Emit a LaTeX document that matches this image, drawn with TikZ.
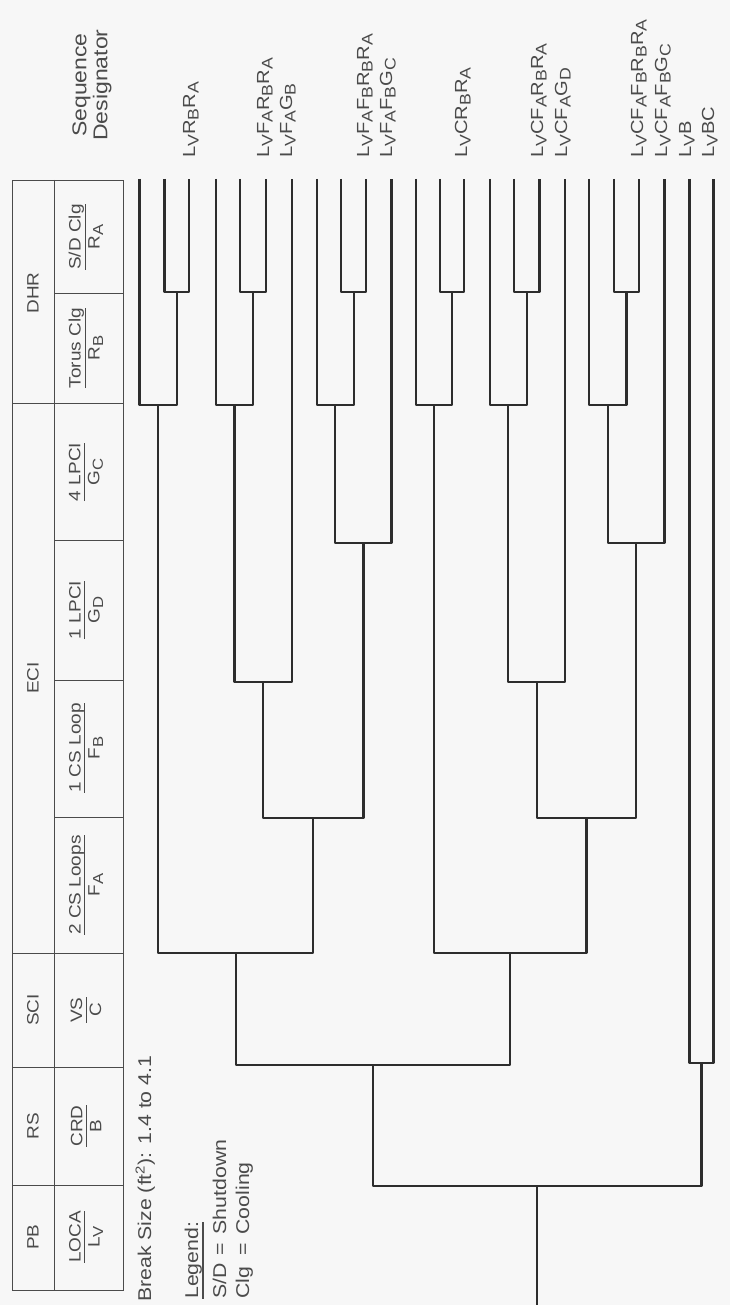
\documentclass[tikz,border=0pt]{standalone}
\usepackage{fontspec}
\setmainfont{Liberation Sans}[FakeStretch=1.15]
\newcommand{\dn}[1]{\raisebox{-0.4ex}{\scalebox{0.88}{#1}}}
\newcommand{\ulx}[1]{\setbox0\hbox{#1}\rlap{\rule[-0.3em]{\wd0}{1.1pt}}\box0}
\definecolor{bg}{RGB}{247,247,247}
\definecolor{ink}{RGB}{45,45,45}
\definecolor{txt}{RGB}{75,75,75}
\begin{document}
\begin{tikzpicture}[x=1pt,y=-1pt,
  tree/.style={draw=ink,line width=2.3pt,line join=round},
  grid/.style={draw=txt,line width=0.9pt},
  hd/.style={rotate=90,text=txt,font=\fontsize{16.5}{19}\selectfont,inner sep=0pt},
  cell/.style={rotate=90,text=txt,font=\fontsize{16.5}{19}\selectfont,align=center,inner sep=0pt},
  seq/.style={rotate=90,anchor=base west,text=txt,font=\fontsize{17.5}{19}\selectfont,inner sep=0pt},
  note/.style={rotate=90,anchor=base west,text=txt,font=\fontsize{18.5}{21}\selectfont,inner sep=0pt}]
\fill[bg] (0,0) rectangle (730,1305);
\useasboundingbox (0,0) rectangle (730,1305);
% table
\draw[grid] (12,180) rectangle (123,1290);
\draw[grid] (54,180) -- (54,1290);
\foreach \yy in {403,953,1067,1185} \draw[grid] (12,\yy) -- (123,\yy);
\foreach \yy in {293,540,680,817} \draw[grid] (54,\yy) -- (123,\yy);
\node[hd] (hDHR) at (33,293) {DHR};
\node[hd] (hECI) at (33,678) {ECI};
\node[hd] (hSCI) at (33,1010) {SCI};
\node[hd] (hRS) at (33,1126) {RS};
\node[hd] (hPB) at (33,1237) {PB};
\node[cell] (cRA) at (86,237) {\ulx{S/D Clg}\\R\dn{A}};
\node[cell] (cRB) at (86,348) {\ulx{Torus Clg}\\R\dn{B}};
\node[cell] (cGC) at (86,472) {\ulx{4 LPCI}\\G\dn{C}};
\node[cell] (cGD) at (86,610) {\ulx{1 LPCI}\\G\dn{D}};
\node[cell] (cFB) at (86,748) {\ulx{1 CS Loop}\\F\dn{B}};
\node[cell] (cFA) at (86,885) {\ulx{2 CS Loops}\\F\dn{A}};
\node[cell] (cC) at (86,1010) {\ulx{VS}\\C};
\node[cell] (cB) at (86,1126) {\ulx{CRD}\\B};
\node[cell] (cLV) at (86,1237) {\ulx{LOCA}\\L\dn{V}};
\node[cell,font=\fontsize{20}{21}\selectfont] (sdes) at (92,85) {Sequence\\Designator};
% notes
\node[note] (brk) at (151,1302) {Break Size (ft\textsuperscript{2}): 1.4 to 4.1};
\node[note] (leg) at (198,1299) {\ulx{Legend:}};
\node[note] (leg1) at (226,1299) {\makebox[43pt][l]{S/D}=\hspace{9pt}Shutdown};
\node[note] (leg2) at (249,1299) {\makebox[43pt][l]{Clg}=\hspace{9pt}Cooling};
% end points
\foreach \i/\xx in {0/139.6,1/164.4,2/189.3,3/216.1,4/240.2,5/265.9,6/291.9,7/316.8,8/341.3,9/366.1,10/391.4,11/416.3,12/440,13/464.1,14/489.7,15/513.9,16/539.5,17/565.1,18/589.2,19/614.1,20/639,21/664.6,22/689.5,23/713.6}
  \coordinate (e\i) at (\xx,179);
% branch points
\coordinate (a1) at (176.9,292);  \coordinate (b1) at (158.3,405);
\coordinate (a2) at (253.1,292);  \coordinate (b2) at (234.6,405);
\coordinate (d1) at (263.3,682);
\coordinate (a3) at (353.7,292);  \coordinate (b3) at (335.3,405);
\coordinate (c1) at (363.4,543);
\coordinate (f1) at (313.3,818);
\coordinate (fa1) at (235.8,953);
\coordinate (a4) at (452.1,292);  \coordinate (b4) at (434.2,405);
\coordinate (a5) at (526.7,292);  \coordinate (b5) at (508.2,405);
\coordinate (d2) at (536.7,682);
\coordinate (a6) at (626.6,292);  \coordinate (b6) at (607.9,405);
\coordinate (c2) at (636.3,543);
\coordinate (f2) at (586.5,818);
\coordinate (fa2) at (510.3,953);
\coordinate (cc1) at (373,1065);
\coordinate (cc2) at (701.5,1063);
\coordinate (bb) at (537.3,1186);
\coordinate (root) at (537.3,1305);
% tree
\draw[tree] (e1) |- (a1) -| (e2);   \draw[tree] (e0) |- (b1) -| (a1);
\draw[tree] (e4) |- (a2) -| (e5);   \draw[tree] (e3) |- (b2) -| (a2);
\draw[tree] (b2) |- (d1) -| (e6);
\draw[tree] (e8) |- (a3) -| (e9);   \draw[tree] (e7) |- (b3) -| (a3);
\draw[tree] (b3) |- (c1) -| (e10);
\draw[tree] (d1) |- (f1) -| (c1);
\draw[tree] (b1) |- (fa1) -| (f1);
\draw[tree] (e12) |- (a4) -| (e13); \draw[tree] (e11) |- (b4) -| (a4);
\draw[tree] (e15) |- (a5) -| (e16); \draw[tree] (e14) |- (b5) -| (a5);
\draw[tree] (b5) |- (d2) -| (e17);
\draw[tree] (e19) |- (a6) -| (e20); \draw[tree] (e18) |- (b6) -| (a6);
\draw[tree] (b6) |- (c2) -| (e21);
\draw[tree] (d2) |- (f2) -| (c2);
\draw[tree] (b4) |- (fa2) -| (f2);
\draw[tree] (fa1) |- (cc1) -| (fa2);
\draw[tree] (e22) |- (cc2) -| (e23);
\draw[tree] (cc1) |- (bb) -| (cc2);
\draw[tree] (bb) -- (root);
% sequence designators
\node[seq] (s2) at (195,158) {L\dn{V}R\dn{B}R\dn{A}};
\node[seq] (s5) at (269,158) {L\dn{V}F\dn{A}R\dn{B}R\dn{A}};
\node[seq] (s6) at (292,158) {L\dn{V}F\dn{A}G\dn{B}};
\node[seq] (s9) at (369,158) {L\dn{V}F\dn{A}F\dn{B}R\dn{B}R\dn{A}};
\node[seq] (s10) at (392,158) {L\dn{V}F\dn{A}F\dn{B}G\dn{C}};
\node[seq] (s13) at (467,158) {L\dn{V}CR\dn{B}R\dn{A}};
\node[seq] (s16) at (543,158) {L\dn{V}CF\dn{A}R\dn{B}R\dn{A}};
\node[seq] (s17) at (567,158) {L\dn{V}CF\dn{A}G\dn{D}};
\node[seq] (s20) at (643,158) {L\dn{V}CF\dn{A}F\dn{B}R\dn{B}R\dn{A}};
\node[seq] (s21) at (667,158) {L\dn{V}CF\dn{A}F\dn{B}G\dn{C}};
\node[seq] (s22) at (691,158) {L\dn{V}B};
\node[seq] (s23) at (714,158) {L\dn{V}BC};
\end{tikzpicture}
\end{document}
